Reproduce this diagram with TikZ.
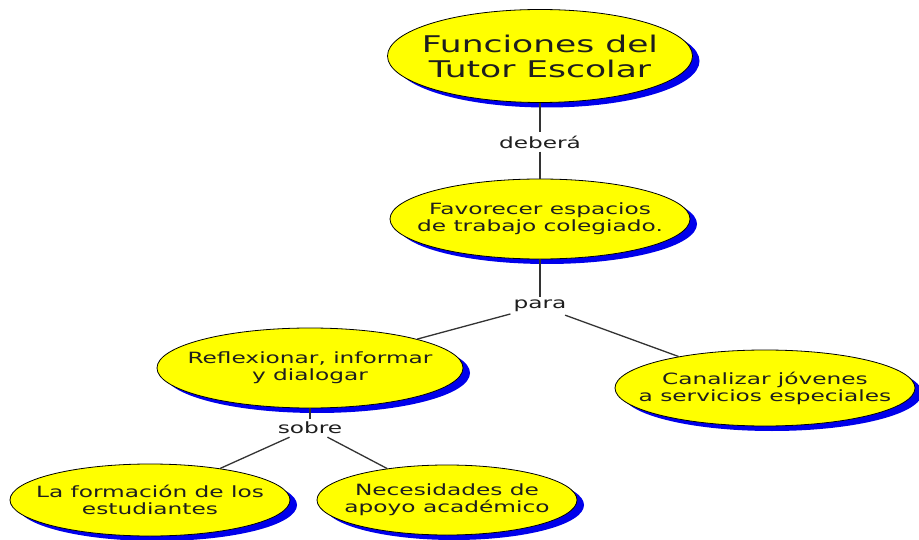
\documentclass[tikz,border=0pt]{standalone}
\usepackage{fontspec}
\setmainfont[FakeStretch=1.5]{DejaVu Sans}
\usetikzlibrary{shapes.geometric,shadows}
\definecolor{bubbleyellow}{RGB}{255,255,0}
\definecolor{shadeblue}{RGB}{0,0,235}
\definecolor{inkgray}{RGB}{30,30,30}

\begin{document}
\begin{tikzpicture}[x=1pt,y=-1pt,
  bubble/.style={ellipse,draw=black,line width=0.8pt,fill=bubbleyellow,inner sep=0pt,
    drop shadow={shadow xshift=7pt,shadow yshift=-5pt,fill=shadeblue,opacity=1}},
  txt/.style={font=\fontsize{15.5}{17}\selectfont,align=center,inner sep=0pt,text=inkgray},
  linkword/.style={font=\fontsize{15.5}{17}\selectfont,inner sep=3pt,text=inkgray},
  link/.style={draw=black!80,line width=1.3pt}]
  \useasboundingbox (0,0) rectangle (919,540);
  \node[bubble,minimum width=305,minimum height=93,
    label={[txt,font=\fontsize{23}{25}\selectfont]center:Funciones del\\Tutor Escolar}] (tutor) at (540,56) {};
  \node[linkword] (debera) at (540,142) {deberá};
  \node[bubble,minimum width=300,minimum height=80,
    label={[txt]center:Favorecer espacios\\de trabajo colegiado.}] (favorecer) at (540,219) {};
  \node[linkword] (para) at (540,306) {para};
  \node[bubble,minimum width=306,minimum height=80,
    label={[txt]center:Reflexionar, informar\\y dialogar}] (reflexionar) at (310,368) {};
  \node[bubble,minimum width=300,minimum height=76,
    label={[txt]center:Canalizar jóvenes\\a servicios especiales}] (canalizar) at (765,388) {};
  \node[linkword] (sobre) at (310,428) {sobre};
  \node[bubble,minimum width=280,minimum height=72,
    label={[txt]center:La formación de los\\estudiantes}] (formacion) at (150,500) {};
  \node[bubble,minimum width=260,minimum height=70,
    label={[txt]center:Necesidades de\\apoyo académico}] (necesidades) at (447,500) {};
  \draw[link] (tutor) -- (debera);
  \draw[link] (debera) -- (favorecer);
  \draw[link] (favorecer) -- (para);
  \draw[link] (para) -- (reflexionar);
  \draw[link] (para) -- (canalizar);
  \draw[link] (reflexionar) -- (sobre);
  \draw[link] (sobre) -- (formacion);
  \draw[link] (sobre) -- (necesidades);
\end{tikzpicture}
\end{document}
